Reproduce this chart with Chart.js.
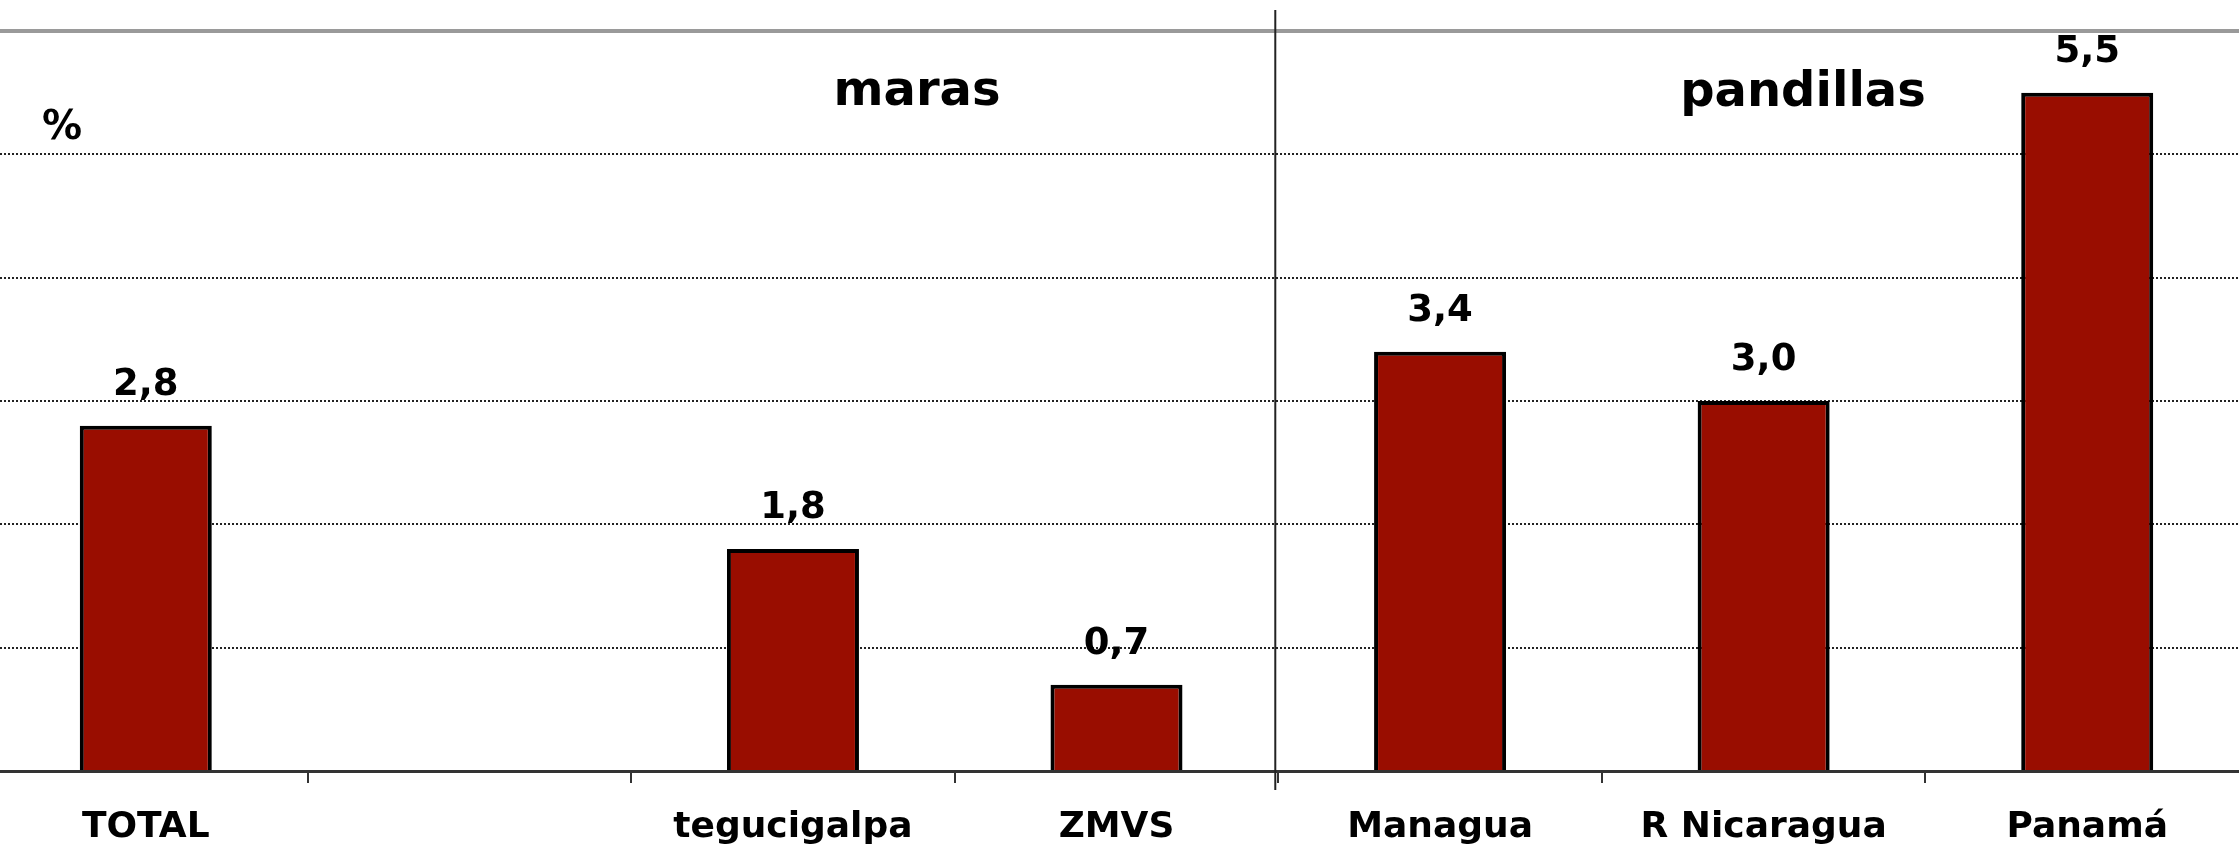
<!DOCTYPE html>
<html lang="es">
<head>
  <meta charset="UTF-8">
  <title>maras y pandillas</title>
  <!-- Chart.js (via CDN) -->
  <script src="https://cdn.jsdelivr.net/npm/chart.js@4"></script>
  <style>
    html, body { margin: 0; padding: 0; background: #fff; overflow: hidden; }
    /* plot runs a little past both window edges, like the original crop */
    #wrap { position: absolute; left: -16px; top: 0; width: 2265px; height: 845px; }
  </style>
</head>
<body>

  <div id="wrap"><canvas id="barChart" width="2265" height="845"></canvas></div>

  <script>
    // data
    const categories = ["TOTAL", "", "tegucigalpa", "ZMVS", "Managua", "R Nicaragua", "Panamá"];
    const percentValues = [2.8, null, 1.8, 0.7, 3.4, 3.0, 5.5];
    const yTicks = [0, 1, 2, 3, 4, 5, 6];
    const groupTitles = ["maras", "pandillas"];
    const unitLabel = "%";

    const FONT = '"DejaVu Sans", Verdana, sans-serif';

    // comma decimals, as in the original
    function fmt(v) {
      return v.toFixed(1).replace(".", ",");
    }

    // value labels above each bar
    const valueLabels = {
      id: "valueLabels",
      afterDatasetsDraw(chart) {
        const ctx = chart.ctx;
        const meta = chart.getDatasetMeta(0);
        ctx.save();
        ctx.font = "bold 37px " + FONT;
        ctx.fillStyle = "#000";
        ctx.textAlign = "center";
        ctx.textBaseline = "alphabetic";
        meta.data.forEach((bar, i) => {
          const v = percentValues[i];
          if (v == null) return;
          ctx.fillText(fmt(v), bar.x, bar.y - 31);
        });
        ctx.restore();
      }
    };

    // divider between the two groups + group titles + unit
    const groupMarks = {
      id: "groupMarks",
      afterDraw(chart) {
        const ctx = chart.ctx;
        const x = chart.scales.x;
        const sepX = (x.getPixelForValue(3) + x.getPixelForValue(4)) / 2 - 3;
        ctx.save();
        ctx.strokeStyle = "#222";
        ctx.lineWidth = 2;
        ctx.beginPath();
        ctx.moveTo(sepX, 10);
        ctx.lineTo(sepX, 790);
        ctx.stroke();

        ctx.fillStyle = "#000";
        ctx.textAlign = "center";
        ctx.textBaseline = "alphabetic";
        ctx.font = "bold 48px " + FONT;
        ctx.fillText(groupTitles[0], 933, 105);
        ctx.fillText(groupTitles[1], 1819, 106);

        ctx.textAlign = "left";
        ctx.font = "bold 40px " + FONT;
        ctx.fillText(unitLabel, 58, 139);
        ctx.restore();
      }
    };

    const ctx = document.getElementById("barChart").getContext("2d");
    new Chart(ctx, {
      type: "bar",
      data: {
        labels: categories,
        datasets: [{
          data: percentValues,
          backgroundColor: "#990d00",
          borderColor: "#000",
          borderWidth: 4,
          barPercentage: 0.408,
          categoryPercentage: 1.0
        }]
      },
      options: {
        responsive: false,
        animation: false,
        layout: { padding: { top: 31, left: 0, right: 0, bottom: 0 } },
        plugins: {
          legend: { display: false },
          tooltip: { enabled: false }
        },
        scales: {
          x: {
            grid: {
              offset: true,
              drawOnChartArea: false,
              drawTicks: true,
              tickLength: 12,
              color: "#333",
              lineWidth: 2
            },
            border: { display: true, color: "#333", width: 3 },
            ticks: {
              color: "#000",
              font: { family: FONT, size: 36, weight: "bold" },
              padding: 23,
              maxRotation: 0,
              autoSkip: false
            },
            afterFit(scale) { scale.height = 74; }
          },
          y: {
            min: yTicks[0],
            max: yTicks[yTicks.length - 1],
            ticks: { display: false, stepSize: 1 },
            grid: {
              drawTicks: false,
              color: c => {
                if (!c.tick) return "#222";
                if (c.tick.value === yTicks[yTicks.length - 1]) return "#9a9a9a";
                if (c.tick.value === yTicks[0]) return "rgba(0,0,0,0)";
                return "#222";
              },
              lineWidth: c => (c.tick && c.tick.value === yTicks[yTicks.length - 1]) ? 4 : 2
            },
            border: {
              display: false,
              dash: c => (c.tick && c.tick.value === yTicks[yTicks.length - 1]) ? [] : [2, 2]
            },
            afterFit(scale) { scale.width = 0; }
          }
        }
      },
      plugins: [valueLabels, groupMarks]
    });
  </script>

</body>
</html>
